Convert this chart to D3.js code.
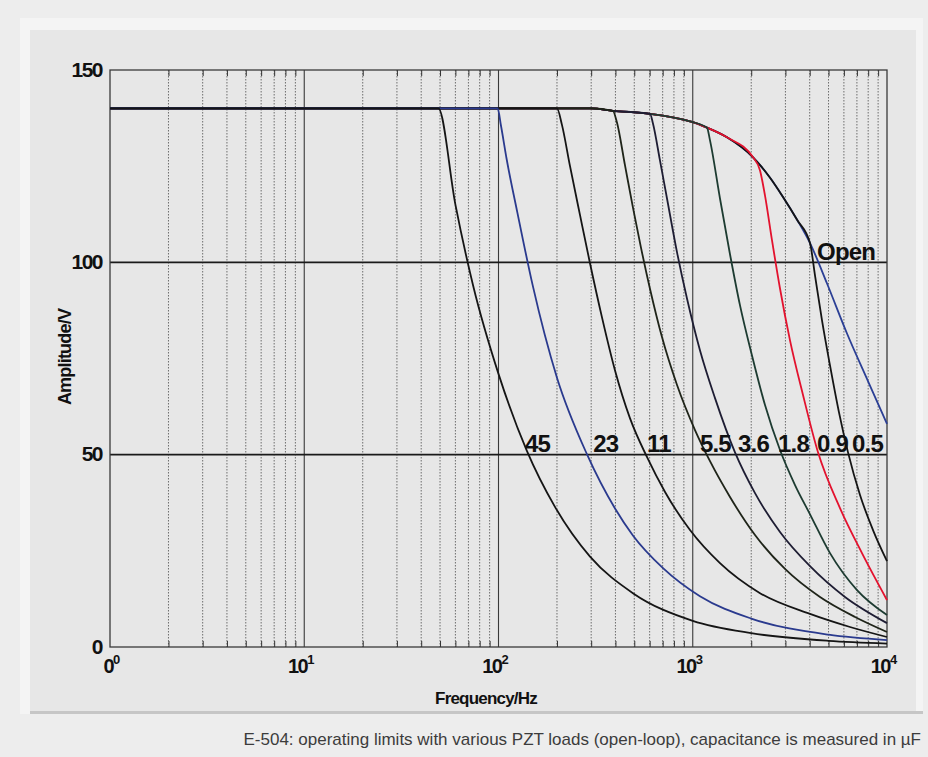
<!DOCTYPE html>
<html>
<head>
<meta charset="utf-8">
<script src="https://cdn.jsdelivr.net/npm/d3@7"></script>
<style>
  body { margin: 0; background: #ededed; }
  svg { display: block; }
</style>
</head>
<body>
<div class="chart"></div>
<script>
// open-loop envelope (Hz, V)
var envelope = [[1,140],[300,140],[388,139.4],[603,138.6],[800,137.6],[991,136.5],[1184,135],[1500,132.5],[2044,127.3],
  [2500,122],[2915,117],[3450,111],[4015,105],[4912,94.5],[6225,81.5],[8000,69],[10000,58]];

// roll-off of each load (Hz, V)
var load45 = [[49,140],[60,115],[74,94],[100,71],[140,51],[195,36.5],[296,23.5],[492,14],[1000,6.8],[2000,3.6],[5000,1.6],[10000,0.9]];
var load23 = [[99,140],[103,135.5],[110,127],[125,113],[150,94],[200,70],[286,50],[398,36],[492,29],[703,20.5],[1089,13.2],[2000,7.4],[5000,3.2],[10000,1.8]];
var load11 = [[200,140],[212,135.8],[233,125.2],[263,112.2],[296,99.7],[341,85.7],[398,71.9],[475,59.5],[581,49.4],[720,40.3],[968,30.4],[1381,21.8],[2220,14],[4015,8.6],[6449,5.2],[10000,2.6]];
var load5_5 = [[388,139.4],[407,136.4],[448,125.2],[492,114.3],[541,103.9],[603,93],[695,80.5],[830,68.1],[1027,56.4],[1227,48.3],[1555,39],[2092,29.1],[2985,20.3],[4520,13],[6845,7.8],[10000,3.9]];
var load3_6 = [[603,138.6],[624,136.1],[678,126.5],[737,116.6],[830,102.6],[934,90.6],[1090,77.1],[1302,64.7],[1650,50.6],[2092,40],[2813,29.9],[4015,21],[6077,13],[10000,6.2]];
var load1_8 = [[1184,135],[1227,131.7],[1381,116.6],[1555,102.1],[1751,88.8],[2018,75.8],[2355,62.9],[2813,51.2],[3361,42.1],[4015,34.5],[5088,24.4],[7009,14.8],[10000,8.3]];
var load0_9 = [[2044,127.3],[2220,123.9],[2354,117.4],[2559,105.7],[2813,93.2],[3167,79.7],[3695,65.5],[4414,50.6],[5728,36.1],[7434,24.4],[10000,12.2]];
var load0_5 = [[4015,105],[4259,96.6],[4628,84.9],[5088,73.2],[5660,61],[6299,50.6],[7261,39.5],[8471,30.4],[10000,22.3]];

var loadNames = ["Open","0.5","0.9","1.8","3.6","5.5","11","23","45"];
var loadColors = ["#2b3f95","#151515","#e3122e","#1d3b31","#1e1d33","#1f2419","#151515","#2a3a8e","#151515"];
var loadTails = [null, load0_5, load0_9, load1_8, load3_6, load5_5, load11, load23, load45];
// where the label text starts (Hz) and sits (V)
var labelFreq = [4364, 6607, 4364, 2748, 1710, 1089, 581, 307, 137];
var labelVolt = [100.5, 50.6, 50.6, 50.6, 50.6, 50.6, 50.6, 50.6, 50.6];

var decades = [1, 10, 100, 1000, 10000];
var decadeBase = ["0", "10", "10", "10", "10"];
var decadeExp = ["0", "1", "2", "3", "4"];
var yTicks = [0, 50, 100, 150];

var W = 928, H = 757;
var svg = d3.select(".chart").append("svg")
  .attr("width", W)
  .attr("height", H)

var font = "'Liberation Sans',Arial,sans-serif";

// panel
svg.append("rect").attr("x", 0).attr("y", 0).attr("width", W).attr("height", H).attr("fill", "#ededed")
svg.append("rect").attr("x", 20).attr("y", 18).attr("width", 903).attr("height", 696).attr("fill", "#f4f4f4")
svg.append("rect").attr("x", 30).attr("y", 30).attr("width", 886).attr("height", 681).attr("fill", "#e7e7e7")
svg.append("rect").attr("x", 30).attr("y", 711).attr("width", 893).attr("height", 3).attr("fill", "#c6c6c6")

var x = d3.scaleLog().domain([1, 10000]).range([110, 887]);
var y = d3.scaleLinear().domain([0, 150]).range([647, 70]);

// minor dotted grid
var minors = [];
decades.slice(0, 4).forEach(function(d) {
  for (var k = 2; k <= 9; k++) minors.push(d * k);
});

svg.append("g").selectAll("line")
  .data(minors)
  .enter()
  .append("line")
  .attr("x1", function(d) { return x(d); })
  .attr("x2", function(d) { return x(d); })
  .attr("y1", y(150))
  .attr("y2", y(0))
  .attr("stroke", "#6d6d6d")
  .attr("stroke-width", 1)
  .attr("stroke-dasharray", "1.5,1.5")

// small inner ticks top and bottom
var tickG = svg.append("g");
tickG.append("g").attr("transform", "translate(0," + y(0) + ")")
  .call(d3.axisBottom(x).tickValues(minors).tickSize(-6).tickFormat(""))
  .call(function(g) { g.select(".domain").remove(); g.selectAll("line").attr("stroke", "#333"); })
tickG.append("g").attr("transform", "translate(0," + y(150) + ")")
  .call(d3.axisTop(x).tickValues(minors).tickSize(-6).tickFormat(""))
  .call(function(g) { g.select(".domain").remove(); g.selectAll("line").attr("stroke", "#333"); })

// decade lines
svg.append("g").selectAll("line")
  .data(decades.slice(1, 4))
  .enter()
  .append("line")
  .attr("x1", function(d) { return x(d); })
  .attr("x2", function(d) { return x(d); })
  .attr("y1", y(150))
  .attr("y2", y(0))
  .attr("stroke", "#3a3a3a")
  .attr("stroke-width", 1.1)

// horizontal lines
svg.append("g").selectAll("line")
  .data([50, 100])
  .enter()
  .append("line")
  .attr("x1", x(1))
  .attr("x2", x(10000))
  .attr("y1", function(d) { return y(d); })
  .attr("y2", function(d) { return y(d); })
  .attr("stroke", "#1a1a1a")
  .attr("stroke-width", 1.6)

// frame
svg.append("rect")
  .attr("x", x(1)).attr("y", y(150))
  .attr("width", x(10000) - x(1)).attr("height", y(0) - y(150))
  .attr("fill", "none").attr("stroke", "#3a3a3a").attr("stroke-width", 1.3)

// curves
var line = d3.line()
  .x(function(d) { return x(d[0]); })
  .y(function(d) { return y(d[1]); })
  .curve(d3.curveMonotoneX)

var curves = svg.append("g").attr("fill", "none");
loadNames.forEach(function(name, i) {
  var tail = loadTails[i];
  var pts = tail ? envelope.filter(function(p) { return p[0] < tail[0][0]; }).concat(tail) : envelope;
  curves.append("path")
    .attr("d", line(pts))
    .attr("stroke", loadColors[i])
    .attr("stroke-width", 1.8)
    .attr("stroke-linejoin", "round")
});

// curve labels
svg.append("g").selectAll("text")
  .data(loadNames)
  .enter()
  .append("text")
  .attr("x", function(d, i) { return x(labelFreq[i]); })
  .attr("y", function(d, i) { return y(labelVolt[i]); })
  .attr("font-family", font)
  .attr("font-weight", "bold")
  .attr("font-size", 24)
  .attr("letter-spacing", -0.8)
  .attr("fill", "#111")
  .text(function(d) { return d; })

// y tick labels
svg.append("g")
  .attr("transform", "translate(" + x(1) + ",0)")
  .call(d3.axisLeft(y).tickValues(yTicks).tickSize(0).tickPadding(8))
  .call(function(g) {
    g.select(".domain").remove();
    g.selectAll("text")
      .attr("font-family", font)
      .attr("font-weight", "bold")
      .attr("font-size", 21)
      .attr("letter-spacing", -1.5)
      .attr("fill", "#111")
      .attr("dy", "0.3em")
  })

// x tick labels with exponents
var xl = svg.append("g")
  .attr("font-family", font)
  .attr("font-weight", "bold")
  .attr("fill", "#111")
decades.forEach(function(d, i) {
  xl.append("text")
    .attr("x", x(d) + 3)
    .attr("y", 673)
    .attr("text-anchor", "end")
    .attr("font-size", 20)
    .attr("letter-spacing", -1.5)
    .text(decadeBase[i]);
  xl.append("text")
    .attr("x", x(d) + 3)
    .attr("y", 664)
    .attr("font-size", 13)
    .text(decadeExp[i]);
});

// axis titles
svg.append("text")
  .attr("x", 486)
  .attr("y", 704)
  .attr("text-anchor", "middle")
  .attr("font-family", font)
  .attr("font-weight", "bold")
  .attr("font-size", 17)
  .attr("letter-spacing", -0.8)
  .attr("fill", "#111")
  .text("Frequency/Hz")

svg.append("text")
  .attr("transform", "translate(71,357) rotate(-90)")
  .attr("text-anchor", "middle")
  .attr("font-family", font)
  .attr("font-weight", "bold")
  .attr("font-size", 18)
  .attr("letter-spacing", -0.8)
  .attr("fill", "#111")
  .text("Amplitude/V")

// caption
svg.append("text")
  .attr("x", 921)
  .attr("y", 745)
  .attr("text-anchor", "end")
  .attr("font-family", font)
  .attr("font-size", 17)
  .attr("fill", "#3c3c3c")
  .text("E-504: operating limits with various PZT loads (open-loop), capacitance is measured in µF")
</script>
</body>
</html>
